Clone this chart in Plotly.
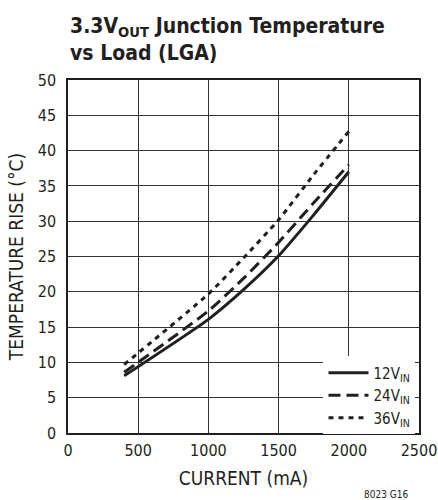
import plotly.graph_objects as go

current_ma = [400, 1000, 1250, 1500, 1750, 2000]
rise_12v = [8.1, 16.1, 20.3, 25.1, 30.9, 37.0]
rise_24v = [8.6, 17.3, 21.9, 27.0, 32.6, 38.0]
rise_36v = [9.7, 19.7, 24.8, 30.2, 36.6, 42.7]

series_names = ["12V<sub>IN</sub>", "24V<sub>IN</sub>", "36V<sub>IN</sub>"]
x_ticks = [0, 500, 1000, 1500, 2000, 2500]
y_ticks = [0, 5, 10, 15, 20, 25, 30, 35, 40, 45, 50]

FONT = "DejaVu Sans Condensed, Liberation Sans Narrow, sans-serif"
INK = "#231f20"

fig = go.Figure()
styles = [("solid", 3), ("12px,6px", 3), ("5px,5px", 3)]
for name, ys, (dash, w) in zip(series_names, [rise_12v, rise_24v, rise_36v], styles):
    fig.add_trace(go.Scatter(
        x=current_ma, y=ys, name=name, mode="lines",
        line=dict(color=INK, width=w, dash=dash, shape="spline", smoothing=0.6),
    ))

fig.update_layout(
    width=438, height=500,
    margin=dict(l=68, r=19, t=80, b=67, autoexpand=False),
    paper_bgcolor="white", plot_bgcolor="white",
    font=dict(family=FONT, size=16, color=INK),
    showlegend=True,
    legend=dict(
        x=0.99, xanchor="right", y=-0.004, yanchor="bottom",
        bgcolor="white", borderwidth=0,
        font=dict(family=FONT, size=15, color=INK),
        itemwidth=40, tracegroupgap=0,
    ),
    annotations=[
        dict(
            text="<b>3.3V<sub>OUT</sub> Junction Temperature<br>vs Load (LGA)</b>",
            xref="paper", yref="paper", x=0, y=1.038, xanchor="left", yanchor="bottom",
            align="left", showarrow=False,
            font=dict(family=FONT, size=21, color=INK),
        ),
        dict(
            text="8023 G16", xref="paper", yref="paper", x=0.974, y=-0.153,
            xanchor="right", yanchor="top", showarrow=False,
            font=dict(family=FONT, size=10, color=INK),
        ),
    ],
)
fig.update_xaxes(
    range=[0, 2500], tickvals=x_ticks, showgrid=True, gridcolor="#333333", gridwidth=1,
    showline=True, linecolor=INK, linewidth=1.5, mirror=True, zeroline=False,
    ticks="outside", ticklen=2, tickcolor="rgba(0,0,0,0)",
    automargin=False, title=dict(text="CURRENT (mA)", standoff=13),
)
fig.update_yaxes(
    range=[0, 50], tickvals=y_ticks, showgrid=True, gridcolor="#333333", gridwidth=1,
    showline=True, linecolor=INK, linewidth=1.5, mirror=True, zeroline=False,
    ticks="outside", ticklen=7, tickcolor="rgba(0,0,0,0)",
    automargin=False, title=dict(text="TEMPERATURE RISE (°C)", standoff=9),
)
fig.write_html(
    "out.html",
    config={"displayModeBar": False},
    post_script="document.body.style.margin='0';document.body.style.overflow='hidden';",
)
